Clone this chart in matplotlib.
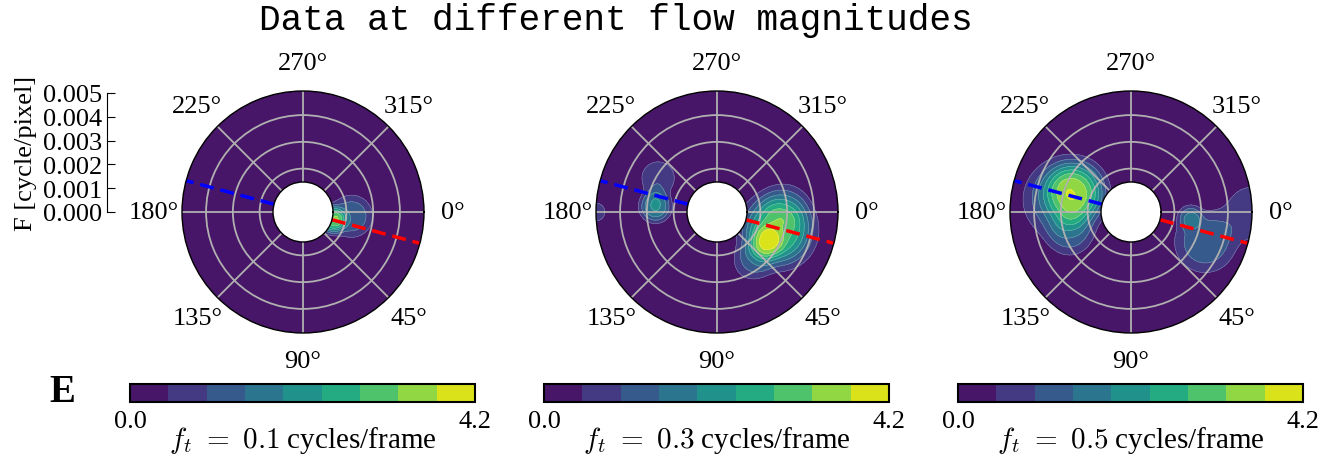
import matplotlib
matplotlib.use('Agg')
import matplotlib.pyplot as plt
import numpy as np

plt.rcParams['font.family'] = ['Liberation Serif', 'DejaVu Serif']
plt.rcParams['mathtext.fontset'] = 'cm'

FLOW = [0.1, 0.3, 0.5]
LEVELS = np.linspace(0, 4.2, 10)
R_LIM = (0.0005, 0.0039)
R_TICKS = [0.001, 0.002, 0.003]
F_TICKS = [0.000, 0.001, 0.002, 0.003, 0.004, 0.005]
THETA_TICKS = [0, 45, 90, 135, 180, 225, 270, 315]
DIR_ANGLE = 15  # deg, dashed direction line

# density blobs: (amplitude, theta deg, r, width)
BLOBS = [
    [(2.6, 15, 0.00050, 0.00037), (1.3, 5, 0.00120, 0.00062)],
    [(1.4, 31, 0.00155, 0.00046), (2.9, 17, 0.00175, 0.00100),
     (0.6, 355, 0.00195, 0.00070), (0.9, 55, 0.00165, 0.00056),
     (1.9, 185, 0.00169, 0.00045), (0.9, 210, 0.00192, 0.00055),
     (0.9, 180, 0.00390, 0.00030)],
    [(2.4, 200, 0.00162, 0.00085), (1.4, 190, 0.00199, 0.00112),
     (0.9, 160, 0.00180, 0.00067),
     (1.1, 5, 0.00158, 0.00034), (1.3, 22, 0.00237, 0.00090),
     (0.8, 0, 0.00390, 0.00090)],
]

fig = plt.figure(figsize=(13.35, 4.6), dpi=100)

centers = [303, 717, 1131]
rad = 121
hole = 30 / 121
rorigin = (R_LIM[0] - hole * R_LIM[1]) / (1 - hole)

theta = np.linspace(0, 2 * np.pi, 361)
r = np.linspace(R_LIM[0], R_LIM[1], 90)
TH, RR = np.meshgrid(theta, r)
X = (RR - rorigin) * np.cos(TH)
Y = (RR - rorigin) * np.sin(TH)


def density(blobs):
    z = np.zeros_like(TH)
    for a, t0, r0, w in blobs:
        x0 = (r0 - rorigin) * np.cos(np.deg2rad(t0))
        y0 = (r0 - rorigin) * np.sin(np.deg2rad(t0))
        d = np.hypot(X - x0, Y - y0) / w
        z += a * np.exp(-0.5 * d ** 3)
    return z


for i, (cx, ft, blobs) in enumerate(zip(centers, FLOW, BLOBS)):
    ax = fig.add_axes([(cx - rad) / 1335, (460 - 213 - rad) / 460, 2 * rad / 1335, 2 * rad / 460],
                      projection='polar')
    ax.set_theta_zero_location('E')
    ax.set_theta_direction(-1)
    z = density(blobs)
    cs = ax.contourf(TH, RR, z, levels=LEVELS, cmap='viridis')
    ax.contour(TH, RR, z, levels=LEVELS[1:-1], colors='white', linewidths=0.4, alpha=0.35)
    t = np.deg2rad(DIR_ANGLE)
    ax.plot([t, t], R_LIM, '--', color='red', lw=2.5, dashes=(4, 2))
    ax.plot([t + np.pi, t + np.pi], R_LIM, '--', color='blue', lw=2.5, dashes=(4, 2))
    ax.set_ylim(*R_LIM)
    ax.set_rorigin(rorigin)
    ax.set_yticks(R_TICKS)
    ax.set_yticklabels([])
    ax.set_thetagrids(THETA_TICKS, [f'{d}°' for d in THETA_TICKS], fontsize=19)
    ax.xaxis.set_tick_params(pad=10)
    ax.grid(color='#b0b0b0', lw=1.3)
    for sp in ax.spines.values():
        sp.set_linewidth(1.0)

    cax = fig.add_axes([(cx - 173) / 1335, 57 / 460, 345 / 1335, 18 / 460])
    cb = fig.colorbar(cs, cax=cax, orientation='horizontal', ticks=[0, 4.2])
    cb.ax.set_xticklabels(['0.0', '4.2'])
    cb.ax.tick_params(length=0, labelsize=19, pad=6)
    cb.outline.set_linewidth(1.5)
    cb.set_label(rf'$f_t\ =\ {ft}$ cycles/frame', fontsize=21, labelpad=-6)

# radial scale on the left
fax = fig.add_axes([107 / 1335, 247 / 460, 0.01, 119 / 460])
fax.set_ylim(0, 0.005)
fax.set_yticks(F_TICKS)
fax.set_yticklabels([f'{v:.3f}' for v in F_TICKS], fontsize=19)
fax.tick_params(axis='y', direction='in', length=6)
fax.set_xticks([])
fax.patch.set_visible(False)
for s in ['top', 'right', 'bottom']:
    fax.spines[s].set_visible(False)
fax.set_ylabel('F [cycle/pixel]', fontsize=19, labelpad=4)

fig.text(0.461, 0.955, 'Data at different flow magnitudes', family='Liberation Mono',
         fontsize=26, ha='center', va='center')
fig.text(0.047, 0.146, 'E', fontsize=28, fontweight='bold', ha='center', va='center')

fig.savefig('out.png', dpi=100)
